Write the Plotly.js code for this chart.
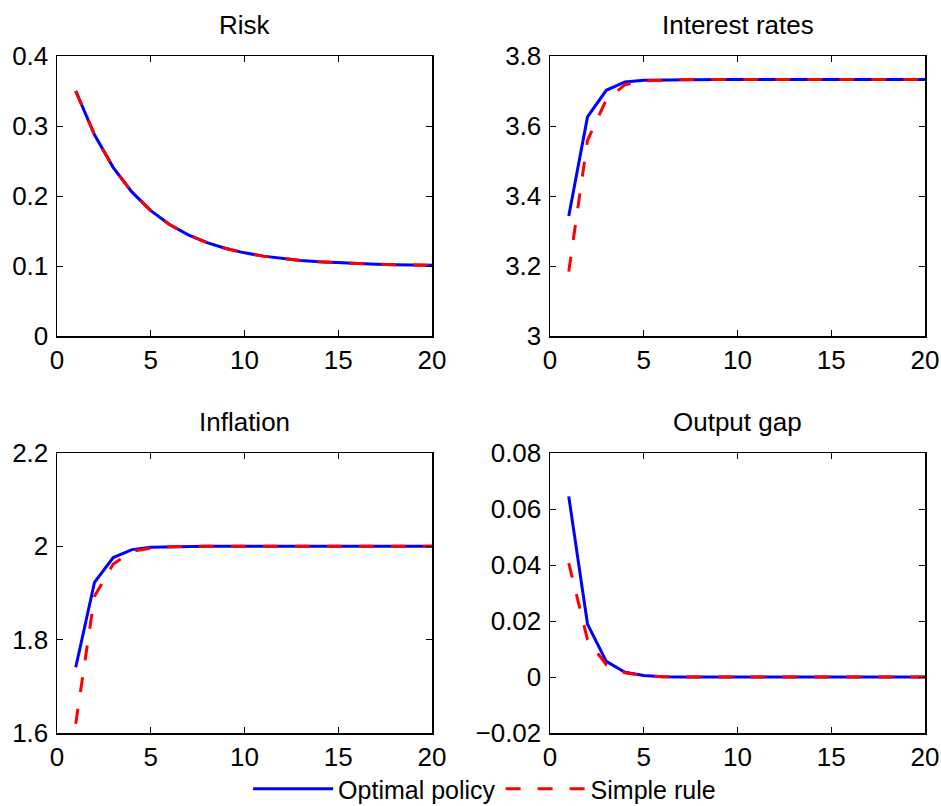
<!DOCTYPE html>
<html>
<head>
<meta charset="utf-8">
<script src="https://cdn.plot.ly/plotly-3.0.1.min.js"></script>
<style>html,body{margin:0;padding:0;background:#fff;}#chart{width:941px;height:806px;}</style>
</head>
<body>
<div id="chart"></div>
<script>
// Horizon (periods)
const periods = [1,2,3,4,5,6,7,8,9,10,11,12,13,14,15,16,17,18,19,20];

// Risk
const riskOptimal = [0.350,0.2875,0.2406,0.2055,0.1791,0.1593,0.1445,0.1334,0.1250,0.1188,0.1141,0.1106,0.1079,0.1059,0.1045,0.1033,0.1025,0.1019,0.1014,0.1011];
const riskSimple  = [0.350,0.2875,0.2406,0.2055,0.1791,0.1593,0.1445,0.1334,0.1250,0.1188,0.1141,0.1106,0.1079,0.1059,0.1045,0.1033,0.1025,0.1019,0.1014,0.1011];

// Interest rates
const rateOptimal = [3.343,3.626,3.702,3.726,3.731,3.732,3.733,3.733,3.733,3.733,3.733,3.733,3.733,3.733,3.733,3.733,3.733,3.733,3.733,3.733];
const rateSimple  = [3.184,3.559,3.675,3.718,3.729,3.732,3.733,3.733,3.733,3.733,3.733,3.733,3.733,3.733,3.733,3.733,3.733,3.733,3.733,3.733];

// Inflation
const inflOptimal = [1.741,1.923,1.976,1.993,1.998,1.999,2.000,2.000,2.000,2.000,2.000,2.000,2.000,2.000,2.000,2.000,2.000,2.000,2.000,2.000];
const inflSimple  = [1.620,1.893,1.962,1.989,1.996,1.999,2.000,2.000,2.000,2.000,2.000,2.000,2.000,2.000,2.000,2.000,2.000,2.000,2.000,2.000];

// Output gap
const gapOptimal = [0.0645,0.0189,0.0056,0.0017,0.0005,0.0001,0,0,0,0,0,0,0,0,0,0,0,0,0,0];
const gapSimple  = [0.0407,0.0133,0.0044,0.0015,0.0005,0.0001,0,0,0,0,0,0,0,0,0,0,0,0,0,0];

const panelTitles = ["Risk","Interest rates","Inflation","Output gap"];
const seriesNames = ["Optimal policy","Simple rule"];

const FONT = "Liberation Sans, Arial, Helvetica, sans-serif";
const blue = "#0000ff", red = "#ff0000";

const panels = [
  {opt: riskOptimal, sim: riskSimple, x: "x", y: "y"},
  {opt: rateOptimal, sim: rateSimple, x: "x2", y: "y2"},
  {opt: inflOptimal, sim: inflSimple, x: "x3", y: "y3"},
  {opt: gapOptimal, sim: gapSimple, x: "x4", y: "y4"}
];

const traces = [];
panels.forEach((p, i) => {
  traces.push({x: periods, y: p.opt, xaxis: p.x, yaxis: p.y, type: "scatter", mode: "lines",
    name: seriesNames[0], legendgroup: "opt", showlegend: i === 0,
    line: {color: blue, width: 3}});
});
panels.forEach((p, i) => {
  traces.push({x: periods, y: p.sim, xaxis: p.x, yaxis: p.y, type: "scatter", mode: "lines",
    name: seriesNames[1], legendgroup: "sim", showlegend: i === 0,
    line: {color: red, width: 3, dash: "15px,17px"}});
});

const W = 941, H = 806;
const colL = [57/W, 432/W], colR = [550/W, 925/W];
const rowT = [(H-336)/H, (H-56)/H], rowB = [(H-733)/H, (H-453)/H];
const TICKFONT = {family: FONT, size: 26, color: "#000"};

function xax(domain, anchor) {
  return {domain: domain, anchor: anchor, range: [0,20], tickvals: [0,5,10,15,20],
    ticks: "inside", ticklen: 6, tickcolor: "#000", tickwidth: 1,
    showline: true, linecolor: "#000", linewidth: 1.5, mirror: "ticks",
    showgrid: false, zeroline: false, tickfont: TICKFONT, fixedrange: true, automargin: false};
}
function yax(domain, anchor, range, dtick) {
  return {domain: domain, anchor: anchor, range: range, dtick: dtick, tick0: range[0],
    ticks: "inside", ticklen: 6, tickcolor: "#000", tickwidth: 1,
    showline: true, linecolor: "#000", linewidth: 1.5, mirror: "ticks",
    showgrid: false, zeroline: false, tickfont: TICKFONT, ticklabelstandoff: 2, fixedrange: true, automargin: false};
}

const titlePos = [[colL, rowT],[colR, rowT],[colL, rowB],[colR, rowB]];
const annotations = panelTitles.map((t, i) => ({
  text: t, xref: "paper", yref: "paper",
  x: (titlePos[i][0][0] + titlePos[i][0][1]) / 2, y: titlePos[i][1][1],
  xanchor: "center", yanchor: "bottom", yshift: 14, showarrow: false,
  font: {family: FONT, size: 26, color: "#000"}
}));

const layout = {
  width: W, height: H,
  margin: {l: 0, r: 0, t: 0, b: 0, autoexpand: false},
  paper_bgcolor: "#fff", plot_bgcolor: "#fff",
  font: {family: FONT, size: 26, color: "#000"},
  xaxis: xax(colL, "y"), yaxis: yax(rowT, "x", [0,0.4], 0.1),
  xaxis2: xax(colR, "y2"), yaxis2: yax(rowT, "x2", [3,3.8], 0.2),
  xaxis3: xax(colL, "y3"), yaxis3: yax(rowB, "x3", [1.6,2.2], 0.2),
  xaxis4: xax(colR, "y4"), yaxis4: yax(rowB, "x4", [-0.02,0.08], 0.02),
  annotations: annotations,
  showlegend: true,
  legend: {orientation: "h", x: 0.515, y: 17/806, xanchor: "center", yanchor: "middle",
    font: {family: FONT, size: 25, color: "#000"}, itemwidth: 80, bgcolor: "rgba(0,0,0,0)",
    tracegroupgap: 0}
};

Plotly.newPlot("chart", traces, layout, {displayModeBar: false, staticPlot: true});
</script>
</body>
</html>
